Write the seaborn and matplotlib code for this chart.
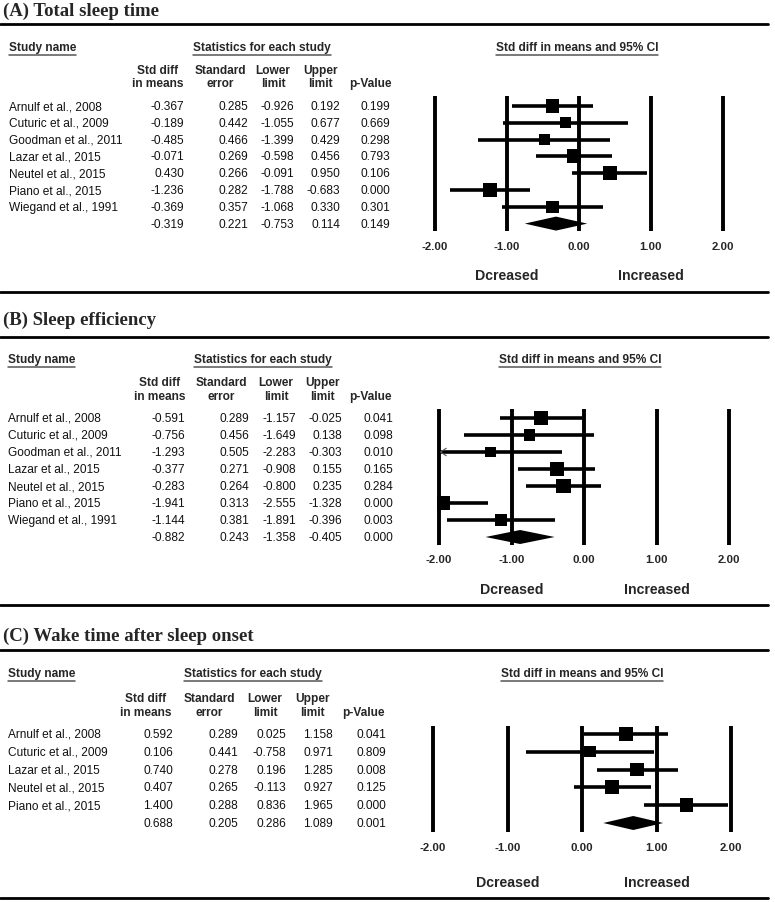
import numpy as np
import pandas as pd
import matplotlib
matplotlib.use("Agg")
import matplotlib.pyplot as plt
import seaborn as sns
from matplotlib.lines import Line2D
from matplotlib.transforms import blended_transform_factory

# ---------------- data ----------------
panel_titles = ["(A) Total sleep time", "(B) Sleep efficiency", "(C) Wake time after sleep onset"]

studies_a = ["Arnulf et al., 2008", "Cuturic et al., 2009", "Goodman et al., 2011", "Lazar et al., 2015",
             "Neutel et al., 2015", "Piano et al., 2015", "Wiegand et al., 1991"]
smd_a = [-0.367, -0.189, -0.485, -0.071, 0.430, -1.236, -0.369, -0.319]
se_a = [0.285, 0.442, 0.466, 0.269, 0.266, 0.282, 0.357, 0.221]
lower_a = [-0.926, -1.055, -1.399, -0.598, -0.091, -1.788, -1.068, -0.753]
upper_a = [0.192, 0.677, 0.429, 0.456, 0.950, -0.683, 0.330, 0.114]
p_a = [0.199, 0.669, 0.298, 0.793, 0.106, 0.000, 0.301, 0.149]

studies_b = ["Arnulf et al., 2008", "Cuturic et al., 2009", "Goodman et al., 2011", "Lazar et al., 2015",
             "Neutel et al., 2015", "Piano et al., 2015", "Wiegand et al., 1991"]
smd_b = [-0.591, -0.756, -1.293, -0.377, -0.283, -1.941, -1.144, -0.882]
se_b = [0.289, 0.456, 0.505, 0.271, 0.264, 0.313, 0.381, 0.243]
lower_b = [-1.157, -1.649, -2.283, -0.908, -0.800, -2.555, -1.891, -1.358]
upper_b = [-0.025, 0.138, -0.303, 0.155, 0.235, -1.328, -0.396, -0.405]
p_b = [0.041, 0.098, 0.010, 0.165, 0.284, 0.000, 0.003, 0.000]

studies_c = ["Arnulf et al., 2008", "Cuturic et al., 2009", "Lazar et al., 2015",
             "Neutel et al., 2015", "Piano et al., 2015"]
smd_c = [0.592, 0.106, 0.740, 0.407, 1.400, 0.688]
se_c = [0.289, 0.441, 0.278, 0.265, 0.288, 0.205]
lower_c = [0.025, -0.758, 0.196, -0.113, 0.836, 0.286]
upper_c = [1.158, 0.971, 1.285, 0.927, 1.965, 1.089]
p_c = [0.041, 0.809, 0.008, 0.125, 0.000, 0.001]

x_ticks = [-2, -1, 0, 1, 2]
x_tick_labels = ["-2.00", "-1.00", "0.00", "1.00", "2.00"]
col_headers = [("Std diff", "in means"), ("Standard", "error"), ("Lower", "limit"),
               ("Upper", "limit"), ("", "p-Value")]
direction_labels = ["Dcreased", "Increased"]

# ---------------- layout (pixels) ----------------
W, H = 775, 903
layouts = [
    dict(title_y=11, line_top=25, line_bot=293, head_y=48, ch_y=(71, 84), row0=107, sp=16.8,
         rights=[184, 248, 294, 340, 390], centers=[158, 220, 273, 320, 370], stats_c=262,
         ci_c=577, x0=579, scale=72, vtop=97, vbot=232, tick_y=247, dir_y=276, name_x=9),
    dict(title_y=320, line_top=338, line_bot=606, head_y=360, ch_y=(383, 397), row0=419, sp=17.0,
         rights=[185, 249, 296, 342, 393], centers=[160, 221, 276, 322, 370], stats_c=263,
         ci_c=580, x0=584, scale=72.5, vtop=410, vbot=546, tick_y=560, dir_y=590, name_x=8),
    dict(title_y=636, line_top=651, line_bot=899, head_y=674, ch_y=(699, 713), row0=735, sp=17.8,
         rights=[173, 238, 286, 333, 386], centers=[146, 209, 265, 312, 363], stats_c=253,
         ci_c=582, x0=582, scale=74.5, vtop=727, vbot=833, tick_y=848, dir_y=883, name_x=8),
]

panels = [
    (studies_a, smd_a, se_a, lower_a, upper_a, p_a),
    (studies_b, smd_b, se_b, lower_b, upper_b, p_b),
    (studies_c, smd_c, se_c, lower_c, upper_c, p_c),
]

sns.set_theme(style="white")
plt.rcParams["font.family"] = ["Liberation Sans", "DejaVu Sans"]

fig = plt.figure(figsize=(W / 100, H / 100), dpi=100)
fig.patch.set_facecolor("white")

def fx(x):
    return x / W

def fy(y):
    return 1 - y / H

FS = 8.6
underline_texts = []

for title, lay, (studies, smd, se, lo, up, pv) in zip(panel_titles, layouts, panels):
    # title + rules
    fig.text(fx(3), fy(lay["title_y"]), title, fontsize=13.5, fontweight="bold",
             family=["Liberation Serif", "DejaVu Serif"], ha="left", va="center")
    for yy in (lay["line_top"], lay["line_bot"]):
        fig.add_artist(Line2D([0, fx(768)], [fy(yy), fy(yy)], color="black", lw=2.0,
                              transform=fig.transFigure))

    # header labels
    for txt, xc, ha in (("Study name", lay["name_x"], "left"),
                        ("Statistics for each study", lay["stats_c"], "center"),
                        ("Std diff in means and 95% CI", lay["ci_c"], "center")):
        t = fig.text(fx(xc), fy(lay["head_y"]), txt, fontsize=FS, fontweight="bold",
                     ha=ha, va="center")
        underline_texts.append(t)

    for (l1, l2), xc in zip(col_headers, lay["centers"]):
        if l1:
            fig.text(fx(xc), fy(lay["ch_y"][0]), l1, fontsize=FS, fontweight="bold",
                     ha="center", va="center")
        fig.text(fx(xc), fy(lay["ch_y"][1]), l2, fontsize=FS, fontweight="bold",
                 ha="center", va="center")

    # table rows
    n = len(smd)
    for i in range(n):
        yy = lay["row0"] + i * lay["sp"]
        if i < len(studies):
            fig.text(fx(lay["name_x"]), fy(yy), studies[i], fontsize=FS, ha="left",
                     va="center", color="#111111")
        vals = [f"{smd[i]:.3f}", f"{se[i]:.3f}", f"{lo[i]:.3f}", f"{up[i]:.3f}", f"{pv[i]:.3f}"]
        for v, xr in zip(vals, lay["rights"]):
            fig.text(fx(xr), fy(yy), v, fontsize=FS, ha="right", va="center", color="#111111")

    # forest axes
    sc = lay["scale"]
    left_px = lay["x0"] - 2.2 * sc
    width_px = 4.4 * sc
    ax = fig.add_axes([fx(left_px), fy(lay["vbot"]), width_px / W, (lay["vbot"] - lay["vtop"]) / H])
    ax.set_xlim(-2.2, 2.2)
    sp = lay["sp"]
    summary_y = lay["row0"] + (n - 1) * sp
    ax.set_ylim((n - 1) + (lay["vbot"] - summary_y) / sp, -(lay["row0"] - lay["vtop"]) / sp)
    ax.axis("on")
    for s in ax.spines.values():
        s.set_visible(False)
    ax.set_facecolor("none")
    ax.grid(False)
    ylo, yhi = ax.get_ylim()
    ax.vlines(x_ticks, yhi, ylo, colors="black", lw=2.8, zorder=1)

    df = pd.DataFrame({"row": np.arange(n - 1), "smd": smd[:-1], "se": se[:-1],
                       "lower": lo[:-1], "upper": up[:-1]})
    df["lo_c"] = df["lower"].clip(-2, 2)
    df["up_c"] = df["upper"].clip(-2, 2)
    ax.hlines(df["row"], df["lo_c"], df["up_c"], colors="black", lw=2.6, zorder=2)
    # arrows for truncated CI
    for _, r in df[df["lower"] < -2].iterrows():
        ax.plot([-1.90, -1.98, -1.90], [r["row"] - 0.22, r["row"], r["row"] + 0.22],
                color="#555555", lw=0.8, zorder=3)

    side_px = 7.93 * df["se"] ** -0.43
    sizes = (side_px * 0.72) ** 2
    sns.scatterplot(data=df, x="smd", y="row", marker="s", color="black", s=sizes,
                    linewidth=0, ax=ax, zorder=4, legend=False)

    # summary diamond
    ys = n - 1
    hh = 7.0 / sp
    ax.fill([lo[-1], smd[-1], up[-1], smd[-1]], [ys, ys - hh, ys, ys + hh],
            color="black", lw=0, zorder=4)

    ax.set_xticks(x_ticks)
    ax.set_xticklabels(x_tick_labels, fontsize=8.2, fontweight="bold")
    ax.tick_params(axis="x", length=0, pad=(lay["tick_y"] - lay["vbot"] - 5) * 0.72)
    ax.set_yticks([])
    ax.set_xlabel("")
    ax.set_ylabel("")

    tr = blended_transform_factory(ax.transData, fig.transFigure)
    for lab, xv in zip(direction_labels, [-1, 1]):
        ax.text(xv, fy(lay["dir_y"]), lab, transform=tr, fontsize=10.2, fontweight="bold",
                ha="center", va="center")

# underlines for header labels
fig.canvas.draw()
renderer = fig.canvas.get_renderer()
for t in underline_texts:
    bb = t.get_window_extent(renderer)
    y = bb.y0 - 1.5
    fig.add_artist(Line2D([bb.x0 / W, bb.x1 / W], [y / H, y / H], color="#555555", lw=1.1,
                          transform=fig.transFigure))

fig.savefig("out.png", dpi=100, facecolor="white")
